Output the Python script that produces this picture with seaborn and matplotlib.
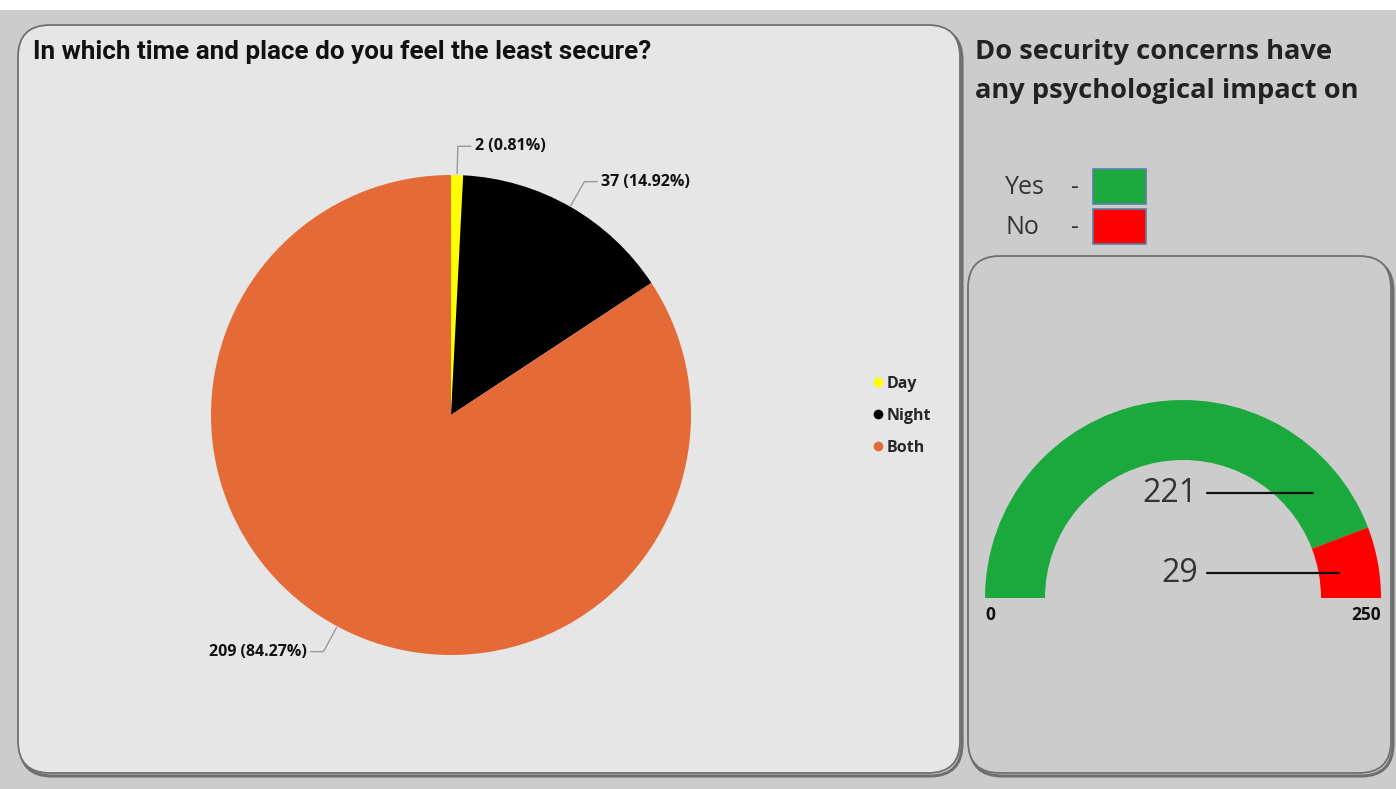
import numpy as np
import matplotlib
matplotlib.use("Agg")
import matplotlib.pyplot as plt
from matplotlib.patches import FancyBboxPatch, Rectangle
from matplotlib.lines import Line2D
import seaborn as sns

# ---------------- data ----------------
pie_title = "In which time and place do you feel the least secure?"
pie_categories = ["Day", "Night", "Both"]
pie_values = [2, 37, 209]
pie_colors = ["#ffff00", "#000000", "#e46b38"]

gauge_title_lines = ["Do security concerns have", "any psychological impact on"]
gauge_labels = ["Yes", "No"]
gauge_values = [221, 29]
gauge_colors = ["#1ba83d", "#ff0000"]
gauge_min, gauge_max = 0, 250

# ---------------- style ----------------
sns.set_theme(style="white")
plt.rcParams["font.family"] = ["Open Sans", "DejaVu Sans"]

W, H = 1396, 789
fig = plt.figure(figsize=(W / 100, H / 100), dpi=100)
fig.patch.set_facecolor("#cccccc")

def px_axes(x0, y0, w, h, z=1):
    ax = fig.add_axes([x0 / W, 1 - (y0 + h) / H, w / W, h / H])
    ax.set_zorder(z)
    return ax

# background axes in pixel coordinates
bg = px_axes(0, 0, W, H, z=0)
bg.set_xlim(0, W)
bg.set_ylim(H, 0)
bg.axis("off")
bg.add_patch(Rectangle((0, 0), W, 10, facecolor="white", edgecolor="none"))

def panel(x0, y0, x1, y1, face):
    shadow = FancyBboxPatch((x0 + 2, y0 + 3), x1 - x0, y1 - y0,
                            boxstyle="round,pad=0,rounding_size=32",
                            facecolor="none", edgecolor="#6e6e6e", lw=2.2)
    bg.add_patch(shadow)
    p = FancyBboxPatch((x0, y0), x1 - x0, y1 - y0,
                       boxstyle="round,pad=0,rounding_size=32",
                       facecolor=face, edgecolor="#707070", lw=1.3)
    bg.add_patch(p)

panel(18, 25, 960, 773, "#e6e6e6")
panel(968, 256, 1391, 773, "#cccccc")

# titles
bg.text(33, 52, pie_title, fontsize=18.7, fontweight="bold", family=["Roboto", "DejaVu Sans"],
        ha="left", va="center", color="#111111")
bg.text(975, 52, gauge_title_lines[0], fontsize=19.6, fontweight="bold",
        ha="left", va="center", color="#222222")
bg.text(975, 91, gauge_title_lines[1], fontsize=19.6, fontweight="bold",
        ha="left", va="center", color="#222222")

# gauge legend (Yes / No boxes)
for i, (lab, col) in enumerate(zip(gauge_labels, gauge_colors)):
    yc = 187 + i * 40
    bg.text(1005, yc, lab, fontsize=18, ha="left", va="center", color="#333333")
    bg.text(1075, yc, "-", fontsize=18, ha="center", va="center", color="#333333")
    bg.add_patch(Rectangle((1093, yc - 18), 53, 35, facecolor=col,
                           edgecolor="#5b7fa8", lw=1.2))

# ---------------- pie ----------------
ax = px_axes(151, 115, 600, 600, z=2)
ax.set_facecolor("none")
wedges, _ = ax.pie(pie_values, colors=pie_colors, startangle=90, counterclock=False,
                   radius=1.0, wedgeprops=dict(linewidth=0))
ax.set_xlim(-1.25, 1.25)
ax.set_ylim(-1.25, 1.25)
ax.set_aspect("equal")
ax.axis("off")

total = sum(pie_values)
for w, v in zip(wedges, pie_values):
    ang = np.deg2rad((w.theta1 + w.theta2) / 2)
    x1, y1 = np.cos(ang), np.sin(ang)
    ex, ey = 1.12 * x1, 1.12 * y1
    sgn = 1 if x1 >= 0 else -1
    hx = ex + sgn * 0.054
    ax.plot([1.005 * x1, ex, hx], [1.005 * y1, ey, ey], color="#9a9a9a", lw=1.0)
    ax.text(hx + sgn * 0.017, ey, f"{v} ({v / total * 100:.2f}%)",
            ha="left" if sgn > 0 else "right", va="center",
            fontsize=11.5, fontweight="bold", color="#111111")

handles = [Line2D([0], [0], marker="o", linestyle="none", markersize=7,
                  markerfacecolor=c, markeredgecolor="none") for c in pie_colors]
fig.legend(handles, pie_categories, loc="center left",
           bbox_to_anchor=(862 / W, 1 - 416 / H), frameon=False,
           prop=dict(weight="bold", size=11.5), handletextpad=0.05,
           labelspacing=1.0, handlelength=1.0, borderpad=0)

# ---------------- gauge ----------------
gx = px_axes(963, 378, 440, 440, z=2)
gx.set_facecolor("none")
hidden = gauge_max - gauge_min
rest = max(0, (gauge_max - gauge_min) - sum(gauge_values))
gw, _ = gx.pie(gauge_values + [rest, hidden],
               colors=gauge_colors + ["none", "none"],
               startangle=180, counterclock=False, radius=1.0,
               wedgeprops=dict(width=60 / 198, linewidth=0))
lim = 220 / 198
gx.set_xlim(-lim, lim)
gx.set_ylim(-lim, lim)
gx.set_aspect("equal")
gx.axis("off")

gx.text(-1.0, -0.085, str(gauge_min), ha="left", va="center", fontsize=12.5,
        fontweight="bold", color="#111111")
gx.text(1.0, -0.085, str(gauge_max), ha="right", va="center", fontsize=12.5,
        fontweight="bold", color="#111111")

# value labels with leader lines
label_y = [0.53, 0.126]
line_end_x = [0.656, 0.788]
for v, ly, lx in zip(gauge_values, label_y, line_end_x):
    gx.text(0.075, ly, str(v), ha="right", va="center", fontsize=23, color="#333333")
    gx.plot([0.12, lx], [ly, ly], color="#111111", lw=1.6)

fig.savefig("out.png", dpi=100, facecolor=fig.get_facecolor())
